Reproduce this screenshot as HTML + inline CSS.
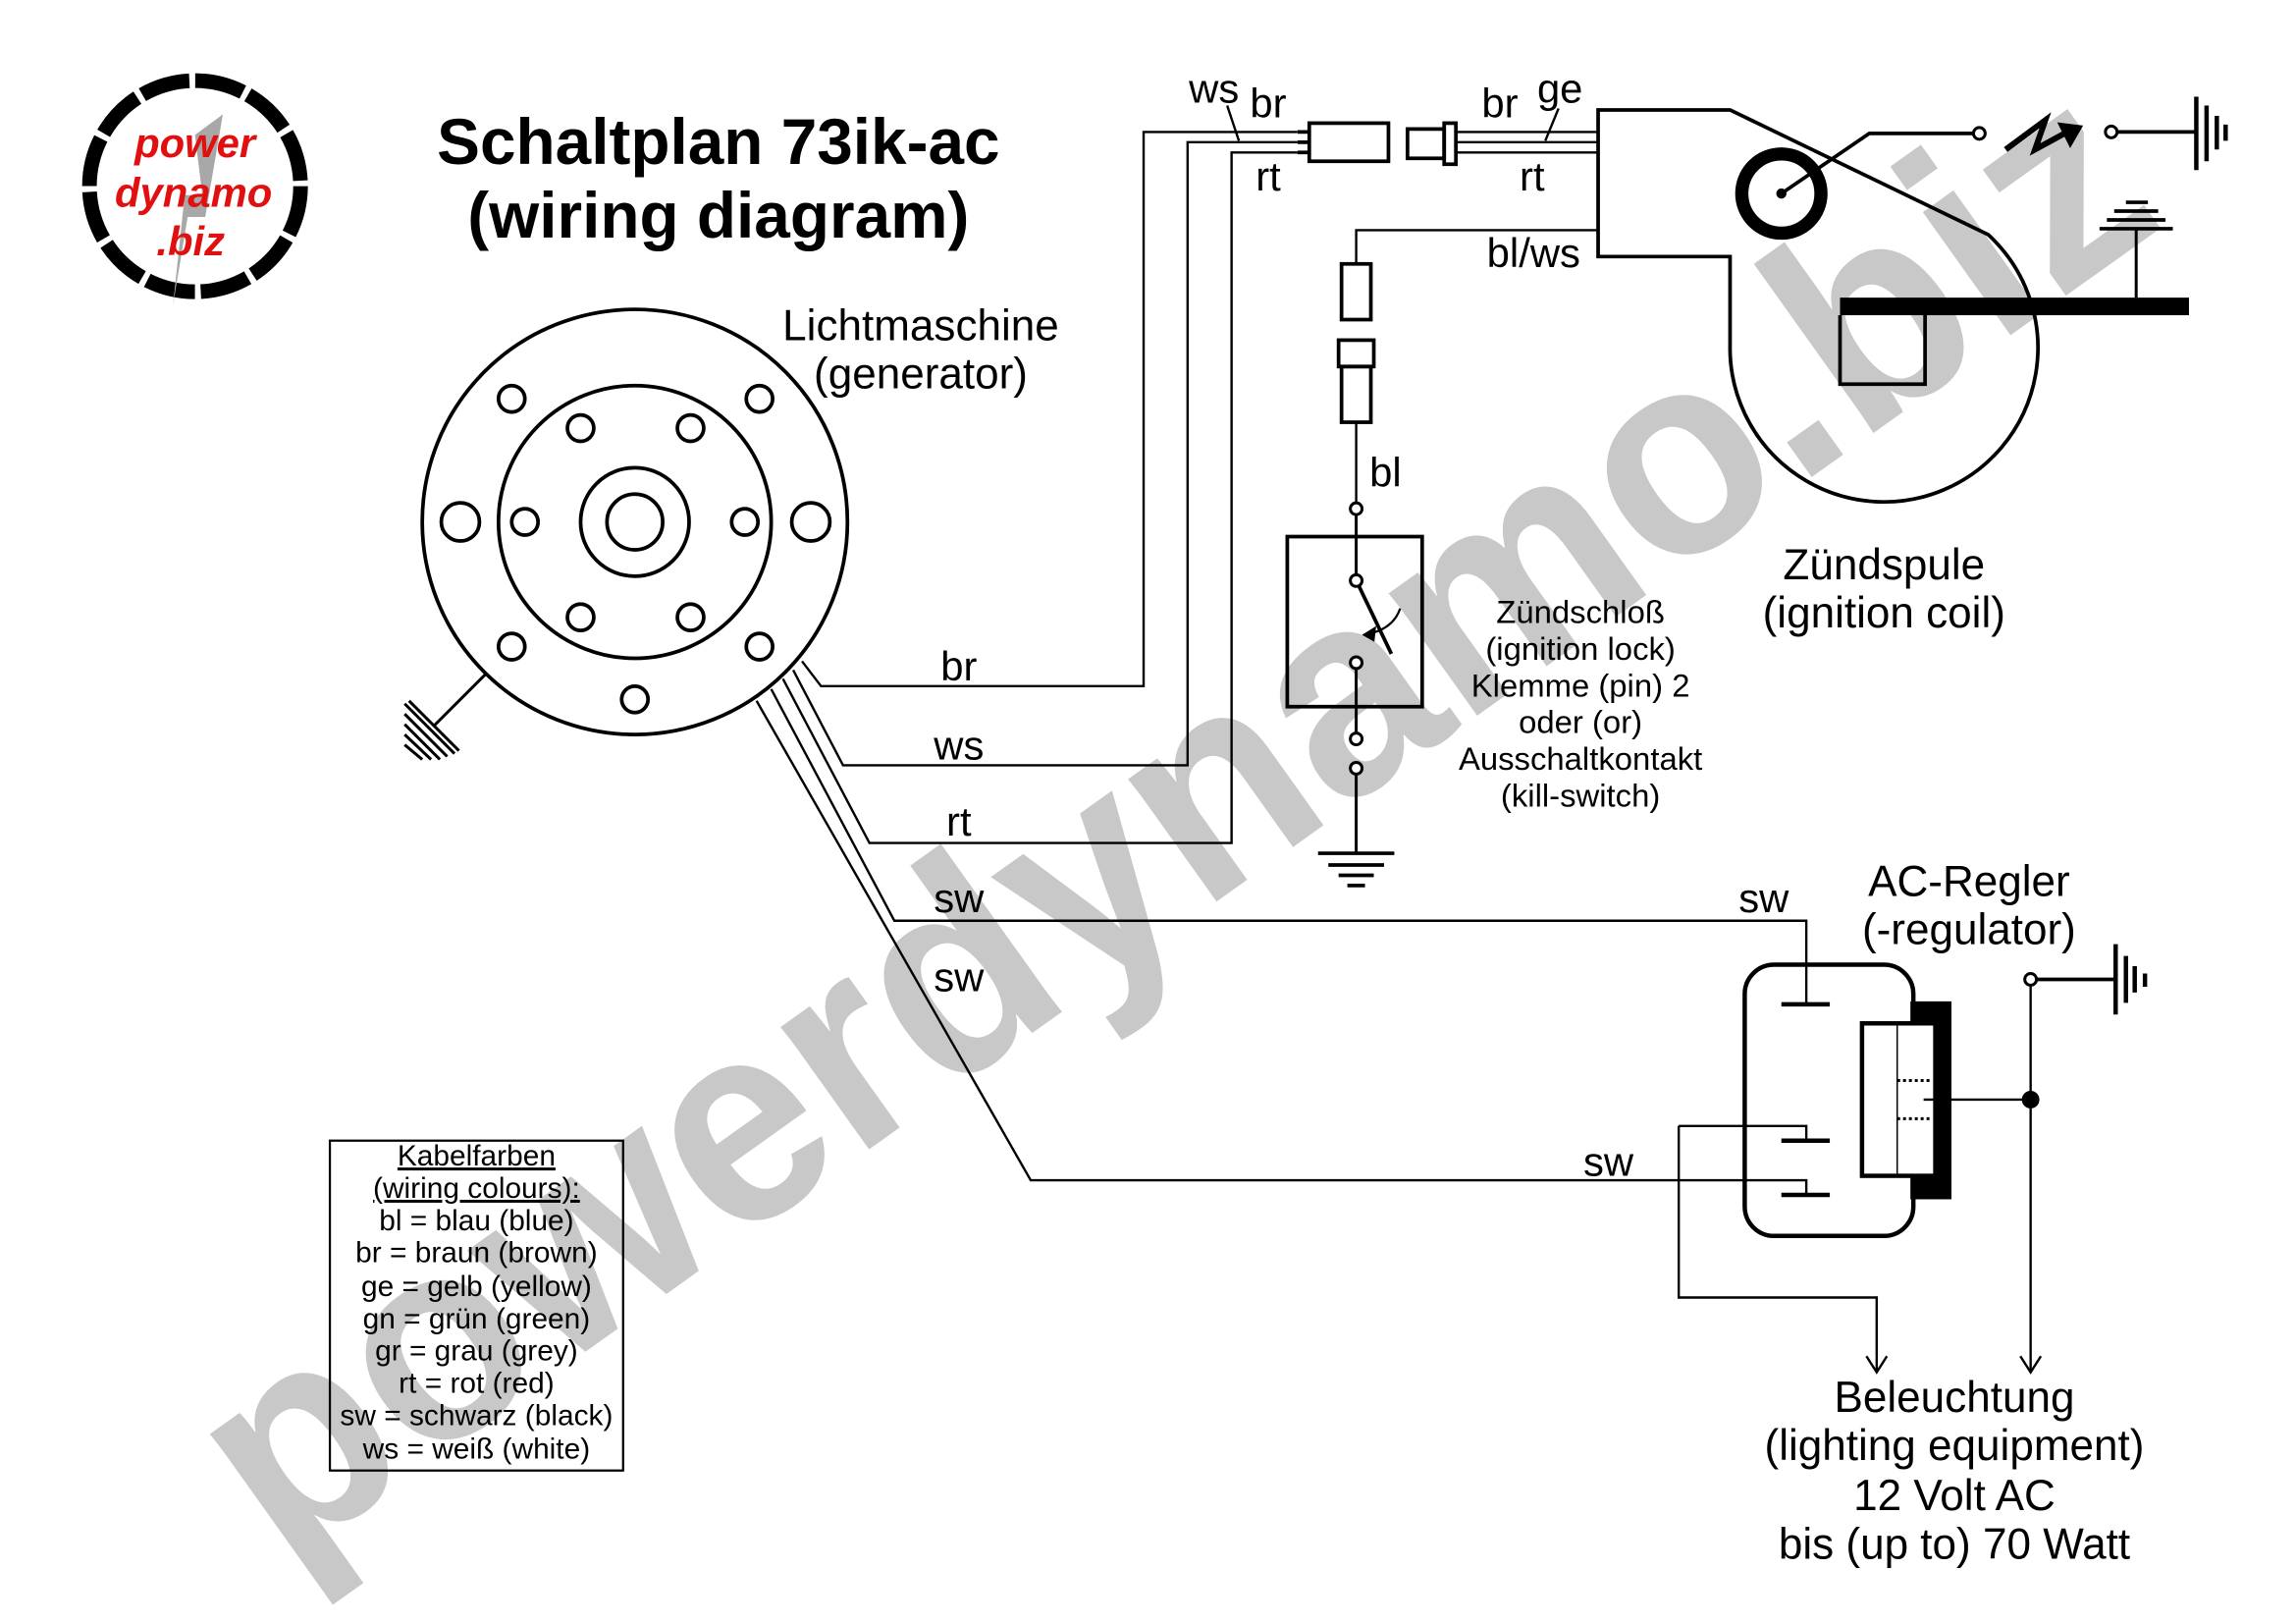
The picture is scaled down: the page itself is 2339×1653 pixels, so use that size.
<!DOCTYPE html>
<html><head><meta charset="utf-8"><style>
html,body{margin:0;padding:0;background:#fff}
svg{display:block}
text{font-family:"Liberation Sans",Arial,sans-serif}
</style></head><body>
<svg width="2339" height="1653" viewBox="0 0 1566 1107" preserveAspectRatio="none" xmlns="http://www.w3.org/2000/svg">
<rect width="1566" height="1107" fill="#fff"/>

<!-- watermark -->
<text x="800" y="622" font-size="195" font-weight="bold" fill="#c8c8c8" text-anchor="middle" textLength="1580" lengthAdjust="spacingAndGlyphs" transform="rotate(-35.5 800 560)">powerdynamo.biz</text>

<!-- logo -->
<g>
<circle cx="133" cy="127" r="72" fill="#fff" stroke="#000" stroke-width="10" stroke-dasharray="33.7 4"/>
<path d="M152 78 L140 148 L128 148 L118 208 L126 133 L138 133 L133 92 Z" fill="#a8a8a8"/>
<text x="133" y="107" font-size="28" font-weight="bold" font-style="italic" fill="#e01010" text-anchor="middle">power</text>
<text x="132" y="141" font-size="28" font-weight="bold" font-style="italic" fill="#e01010" text-anchor="middle">dynamo</text>
<text x="130" y="174" font-size="28" font-weight="bold" font-style="italic" fill="#e01010" text-anchor="middle">.biz</text>
</g>

<!-- title -->
<text x="490" y="112" font-size="44" font-weight="bold" text-anchor="middle">Schaltplan 73ik-ac</text>
<text x="490" y="162" font-size="44" font-weight="bold" text-anchor="middle">(wiring diagram)</text>

<g fill="none" stroke="#000">
<!-- generator -->
<circle cx="433" cy="356" r="145" stroke-width="2.5"/>
<circle cx="433" cy="356" r="93" stroke-width="2.5"/>
<circle cx="433" cy="356" r="37" stroke-width="2.5"/>
<circle cx="433" cy="356" r="19" stroke-width="2.5"/>
<g stroke-width="2.5">
<circle cx="349" cy="272" r="9"/><circle cx="518" cy="272" r="9"/>
<circle cx="314" cy="356" r="13"/><circle cx="553" cy="356" r="13"/>
<circle cx="349" cy="441" r="9"/><circle cx="518" cy="441" r="9"/>
<circle cx="433" cy="477" r="9"/>
<circle cx="396" cy="292" r="9"/><circle cx="471" cy="292" r="9"/>
<circle cx="358" cy="356" r="9"/><circle cx="508" cy="356" r="9"/>
<circle cx="396" cy="421" r="9"/><circle cx="471" cy="421" r="9"/>
</g>
<!-- generator ground -->
<path d="M331 460 L296 495" stroke-width="2"/>
<path d="M276 480 L310 514 M276 487 L305 516 M276 494 L300 518 M276 501 L294 518 M276 508 L288 518 M279 478 L313 512" stroke-width="2"/>

<!-- wires from generator -->
<g stroke-width="1.6">
<path d="M547 451 L560 468 H780 V90 H885"/>
<path d="M541 457 L575 522 H810 V97 H885"/>
<path d="M534 463 L593 575 H840 V104 H885"/>
<path d="M526 470 L610 628 H1232 V685"/>
<path d="M516 478 L703 805 H1232 V815"/>
<path d="M1145 768 H1232 V778"/>
<path d="M1145 768 V885 H1280 V935"/>
<path d="M1273 925 L1280 936 L1287 925"/>
<path d="M1378 925 L1385 936 L1392 925"/>
<path d="M837 72 L845 96"/>
<path d="M1063 74 L1054 96"/>
</g>

<!-- connectors -->
<g stroke-width="2.5">
<rect x="893" y="84" width="54" height="26"/>
<path d="M885 90 H893 M885 97 H893 M885 104 H893" />
<rect x="960" y="88" width="25" height="20"/>
<rect x="985" y="84" width="8" height="28"/>
</g>
<path d="M993 90 H1090 M993 97 H1090 M993 104 H1090" stroke-width="1.6"/>

<!-- coil outline -->
<path d="M1090 75 H1180 L1356 160 A105 105 0 1 1 1180 235 V175 H1090 Z" stroke-width="2.5"/>
<circle cx="1215" cy="132" r="27" stroke-width="9"/>
<circle cx="1215" cy="132" r="3" fill="#000"/>
<path d="M1215 132 L1275 91 H1346" stroke-width="2.5"/>
<circle cx="1350" cy="91" r="4" stroke-width="2" fill="#fff"/>
<path d="M1368 102 L1395 82 L1388 102 L1410 90" stroke-width="4"/>
<path d="M1404 84 L1420 86 L1412 100 Z" fill="#000" stroke-width="1"/>
<circle cx="1440" cy="90" r="4" stroke-width="2" fill="#fff"/>
<path d="M1444 90 H1498" stroke-width="2.5"/>
<path d="M1498 66 V116 M1505 72 V110 M1512 79 V102 M1518 85 V96" stroke-width="3"/>
<rect x="1255" y="203" width="238" height="12" fill="#000" stroke="none"/>
<path d="M1255 215 V262 H1313 V215" stroke-width="2.5"/>
<path d="M1457 203 V157" stroke-width="2"/>
<path d="M1432 156 H1482 M1437 150 H1477 M1442 144 H1472 M1450 138 H1465" stroke-width="2.5"/>

<!-- bl/ws line to kill switch -->
<path d="M1090 157 H925 V180" stroke-width="1.6"/>
<rect x="915" y="180" width="20" height="38" stroke-width="2.5"/>
<rect x="913" y="232" width="24" height="18" stroke-width="2.5"/>
<rect x="915" y="250" width="20" height="38" stroke-width="2.5"/>
<path d="M925 288 V343" stroke-width="1.6"/>
<circle cx="925" cy="347" r="4" stroke-width="2" fill="#fff"/>
<rect x="878" y="366" width="92" height="116" stroke-width="2.5"/>
<path d="M925 351 V392" stroke-width="2"/>
<circle cx="925" cy="396" r="4" stroke-width="2" fill="#fff"/>
<path d="M927 400 L949 446" stroke-width="2.5"/>
<path d="M955 415 Q950 430 930 433" stroke-width="1.5"/>
<path d="M930 433 L938 428 L937 437 Z" fill="#000" stroke-width="1"/>
<circle cx="925" cy="452" r="4" stroke-width="2" fill="#fff"/>
<path d="M925 456 V500" stroke-width="2"/>
<circle cx="925" cy="504" r="4" stroke-width="2" fill="#fff"/>
<circle cx="925" cy="524" r="4" stroke-width="2" fill="#fff"/>
<path d="M925 528 V582" stroke-width="2"/>
<path d="M899 582 H951 M906 590 H944 M913 597 H937 M919 604 H931" stroke-width="2.5"/>

<!-- regulator -->
<rect x="1190" y="658" width="115" height="185" rx="20" stroke-width="3"/>
<rect x="1303" y="683" width="28" height="135" fill="#000" stroke="none"/>
<rect x="1270" y="698" width="50" height="104" fill="#fff" stroke-width="3"/>
<path d="M1294 698 V802" stroke-width="1"/>
<path d="M1294 737 H1318 M1294 763 H1318" stroke-width="2" stroke-dasharray="2 2"/>
<path d="M1312 750 H1385" stroke-width="1.6"/>
<path d="M1215 685 H1248 M1215 778 H1248 M1215 815 H1248" stroke-width="3"/>
<circle cx="1385" cy="750" r="6" fill="#000" stroke="none"/>
<path d="M1385 672 V935" stroke-width="1.6"/>
<circle cx="1385" cy="668" r="4" stroke-width="2" fill="#fff"/>
<path d="M1389 668 H1443" stroke-width="2.5"/>
<path d="M1443 644 V692 M1450 652 V684 M1456 659 V677 M1463 664 V673" stroke-width="3"/>

<!-- legend box -->
<rect x="225" y="778" width="200" height="225" stroke-width="1.5"/>
</g>

<!-- labels -->
<g font-size="28" fill="#000">
<text x="828" y="70" text-anchor="middle">ws</text>
<text x="865" y="80" text-anchor="middle">br</text>
<text x="865" y="130" text-anchor="middle">rt</text>
<text x="1023" y="80" text-anchor="middle">br</text>
<text x="1064" y="70" text-anchor="middle">ge</text>
<text x="1045" y="130" text-anchor="middle">rt</text>
<text x="1046" y="182" text-anchor="middle">bl/ws</text>
<text x="945" y="332" text-anchor="middle">bl</text>
<text x="654" y="464" text-anchor="middle">br</text>
<text x="654" y="518" text-anchor="middle">ws</text>
<text x="654" y="570" text-anchor="middle">rt</text>
<text x="654" y="622" text-anchor="middle">sw</text>
<text x="654" y="676" text-anchor="middle">sw</text>
<text x="1203" y="622" text-anchor="middle">sw</text>
<text x="1097" y="802" text-anchor="middle">sw</text>
</g>
<g font-size="29.5" fill="#000" text-anchor="middle">
<text x="628" y="232">Lichtmaschine</text>
<text x="628" y="265">(generator)</text>
<text x="1285" y="395">Zündspule</text>
<text x="1285" y="428">(ignition coil)</text>
<text x="1343" y="611">AC-Regler</text>
<text x="1343" y="644">(-regulator)</text>
<text x="1333" y="963">Beleuchtung</text>
<text x="1333" y="996">(lighting equipment)</text>
<text x="1333" y="1030">12 Volt AC</text>
<text x="1333" y="1063">bis (up to) 70 Watt</text>
</g>
<g font-size="22" fill="#000" text-anchor="middle">
<text x="1078" y="425">Zündschloß</text>
<text x="1078" y="450">(ignition lock)</text>
<text x="1078" y="475">Klemme (pin) 2</text>
<text x="1078" y="500">oder (or)</text>
<text x="1078" y="525">Ausschaltkontakt</text>
<text x="1078" y="550">(kill-switch)</text>
</g>
<g font-size="20" fill="#000" text-anchor="middle">
<text x="325" y="795" text-decoration="underline">Kabelfarben</text>
<text x="325" y="817" text-decoration="underline">(wiring colours):</text>
<text x="325" y="839">bl = blau (blue)</text>
<text x="325" y="861">br = braun (brown)</text>
<text x="325" y="884">ge = gelb (yellow)</text>
<text x="325" y="906">gn = grün (green)</text>
<text x="325" y="928">gr = grau (grey)</text>
<text x="325" y="950">rt = rot (red)</text>
<text x="325" y="972">sw = schwarz (black)</text>
<text x="325" y="995">ws = weiß (white)</text>
</g>
</svg>
</body></html>
